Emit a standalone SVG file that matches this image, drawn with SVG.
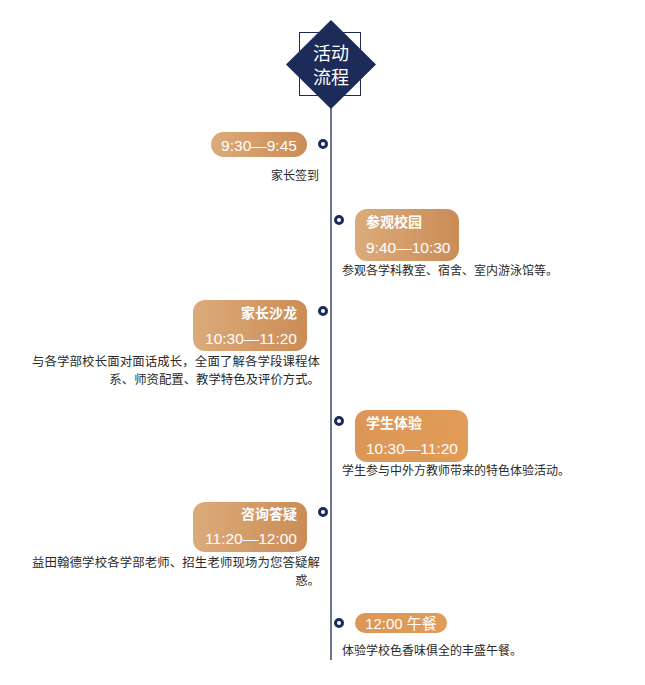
<svg xmlns="http://www.w3.org/2000/svg" width="645" height="685" viewBox="0 0 645 685">
<defs>
<linearGradient id="tan" x1="0" y1="0" x2="1" y2="0">
<stop offset="0" stop-color="#dcab7a"/>
<stop offset="1" stop-color="#cb8c57"/>
</linearGradient>
<linearGradient id="orange" x1="0" y1="0" x2="1" y2="0">
<stop offset="0" stop-color="#dc9657"/>
<stop offset="1" stop-color="#e29c58"/>
</linearGradient>
<style>
.dot{fill:#fff;stroke:#1d2b58;stroke-width:3}
.t{font-family:"Noto Sans CJK SC","Microsoft YaHei",sans-serif;font-size:14px;font-weight:bold;fill:#fff}
.tm{font-family:"Liberation Sans","Noto Sans CJK SC",sans-serif;font-size:15.5px;fill:#fff}
.d{font-family:"Noto Sans CJK SC",sans-serif;font-size:12px;fill:#2a2a2a}
.dl{font-size:12.4px}
.h{font-family:"Noto Sans CJK SC",sans-serif;font-size:18px;fill:#fff}
</style>
</defs>
<rect width="645" height="685" fill="#fff"/>
<g id="connectors">
<line x1="331" y1="108" x2="331" y2="660" stroke="#1d2b58" stroke-width="1.3"/>
</g>
<g id="header">
<rect x="299.5" y="32.5" width="61" height="63" fill="none" stroke="#1d2b58" stroke-width="1"/>
<polygon points="331,20 376,64.5 331,109 286,64.5" fill="#1d2b58"/>
<text class="h" x="331" y="60" text-anchor="middle">活动</text>
<text class="h" x="331" y="84" text-anchor="middle">流程</text>
</g>
<g id="item1">
<circle class="dot" cx="323" cy="144" r="3.5"/>
<rect x="211" y="132" width="96" height="25" rx="12.5" fill="url(#tan)"/>
<text class="tm" x="259" y="151" text-anchor="middle">9:30—9:45</text>
<text class="d" x="319" y="180" text-anchor="end">家长签到</text>
</g>
<g id="item2">
<circle class="dot" cx="339" cy="220" r="3.5"/>
<rect x="355" y="209" width="104" height="52" rx="12" fill="url(#tan)"/>
<text class="t" x="366" y="227">参观校园</text>
<text class="tm" x="366" y="253">9:40—10:30</text>
<text class="d" x="342" y="275">参观各学科教室、宿舍、室内游泳馆等。</text>
</g>
<g id="item3">
<circle class="dot" cx="323" cy="311" r="3.5"/>
<rect x="193" y="300" width="114" height="51" rx="12" fill="url(#tan)"/>
<text class="t" x="297" y="318" text-anchor="end">家长沙龙</text>
<text class="tm" x="297" y="344" text-anchor="end">10:30—11:20</text>
<text class="d dl" x="32" y="366" textLength="288" lengthAdjust="spacing">与各学部校长面对面话成长，全面了解各学段课程体</text>
<text class="d dl" x="320" y="384" text-anchor="end">系、师资配置、教学特色及评价方式。</text>
</g>
<g id="item4">
<circle class="dot" cx="339" cy="421" r="3.5"/>
<rect x="355" y="410" width="113" height="52" rx="12" fill="url(#orange)"/>
<text class="t" x="366" y="428">学生体验</text>
<text class="tm" x="366" y="454">10:30—11:20</text>
<text class="d" x="342" y="475">学生参与中外方教师带来的特色体验活动。</text>
</g>
<g id="item5">
<circle class="dot" cx="323" cy="512" r="3.5"/>
<rect x="193" y="502" width="114" height="50" rx="12" fill="url(#tan)"/>
<text class="t" x="297" y="519" text-anchor="end">咨询答疑</text>
<text class="tm" x="297" y="544" text-anchor="end">11:20—12:00</text>
<text class="d dl" x="32" y="567" textLength="288" lengthAdjust="spacing">益田翰德学校各学部老师、招生老师现场为您答疑解</text>
<text class="d dl" x="320" y="585" text-anchor="end">惑。</text>
</g>
<g id="item6">
<circle class="dot" cx="339" cy="623" r="3.5"/>
<rect x="355" y="613" width="92" height="20" rx="10" fill="url(#orange)"/>
<text class="tm" x="401" y="629" text-anchor="middle" style="font-size:15px">12:00 午餐</text>
<text class="d" x="342" y="655">体验学校色香味俱全的丰盛午餐。</text>
</g>
</svg>
